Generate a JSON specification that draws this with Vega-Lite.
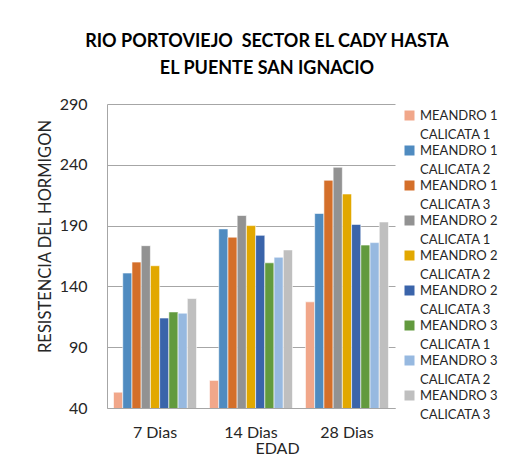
{
  "$schema": "https://vega.github.io/schema/vega-lite/v6.json",
  "width": 288,
  "height": 304,
  "autosize": {"type": "none"},
  "padding": {"left": 107, "top": 104, "right": 123, "bottom": 51},
  "background": "white",
  "config": {"font": "Lato", "view": {"stroke": null}, "style": {"guide-label": {"lineHeight": 19}}},
  "title": {
    "text": ["RIO PORTOVIEJO \u00a0SECTOR EL CADY HASTA", "EL PUENTE SAN IGNACIO"],
    "font": "Lato", "fontSize": 18, "fontWeight": "bold", "color": "black",
    "anchor": "middle", "dx": 16, "offset": 18, "lineHeight": 27
  },
  "data": {
    "values": [
      {"edad": "7 Dias", "serie": "MEANDRO 1 CALICATA 1", "valor": 53},
      {"edad": "7 Dias", "serie": "MEANDRO 1 CALICATA 2", "valor": 151},
      {"edad": "7 Dias", "serie": "MEANDRO 1 CALICATA 3", "valor": 160},
      {"edad": "7 Dias", "serie": "MEANDRO 2 CALICATA 1", "valor": 173.5},
      {"edad": "7 Dias", "serie": "MEANDRO 2 CALICATA 2", "valor": 157},
      {"edad": "7 Dias", "serie": "MEANDRO 2 CALICATA 3", "valor": 114},
      {"edad": "7 Dias", "serie": "MEANDRO 3 CALICATA 1", "valor": 119},
      {"edad": "7 Dias", "serie": "MEANDRO 3 CALICATA 2", "valor": 118},
      {"edad": "7 Dias", "serie": "MEANDRO 3 CALICATA 3", "valor": 130},
      {"edad": "14 Dias", "serie": "MEANDRO 1 CALICATA 1", "valor": 62.7},
      {"edad": "14 Dias", "serie": "MEANDRO 1 CALICATA 2", "valor": 187.3},
      {"edad": "14 Dias", "serie": "MEANDRO 1 CALICATA 3", "valor": 180.5},
      {"edad": "14 Dias", "serie": "MEANDRO 2 CALICATA 1", "valor": 198.3},
      {"edad": "14 Dias", "serie": "MEANDRO 2 CALICATA 2", "valor": 190},
      {"edad": "14 Dias", "serie": "MEANDRO 2 CALICATA 3", "valor": 182},
      {"edad": "14 Dias", "serie": "MEANDRO 3 CALICATA 1", "valor": 159.4},
      {"edad": "14 Dias", "serie": "MEANDRO 3 CALICATA 2", "valor": 164},
      {"edad": "14 Dias", "serie": "MEANDRO 3 CALICATA 3", "valor": 170},
      {"edad": "28 Dias", "serie": "MEANDRO 1 CALICATA 1", "valor": 127.3},
      {"edad": "28 Dias", "serie": "MEANDRO 1 CALICATA 2", "valor": 200},
      {"edad": "28 Dias", "serie": "MEANDRO 1 CALICATA 3", "valor": 227.3},
      {"edad": "28 Dias", "serie": "MEANDRO 2 CALICATA 1", "valor": 238},
      {"edad": "28 Dias", "serie": "MEANDRO 2 CALICATA 2", "valor": 216},
      {"edad": "28 Dias", "serie": "MEANDRO 2 CALICATA 3", "valor": 191},
      {"edad": "28 Dias", "serie": "MEANDRO 3 CALICATA 1", "valor": 174},
      {"edad": "28 Dias", "serie": "MEANDRO 3 CALICATA 2", "valor": 176},
      {"edad": "28 Dias", "serie": "MEANDRO 3 CALICATA 3", "valor": 193}
    ]
  },
  "mark": {"type": "bar", "stroke": "white", "strokeWidth": 0.6, "clip": true},
  "encoding": {
    "x": {
      "field": "edad", "type": "nominal",
      "sort": ["7 Dias", "14 Dias", "28 Dias"],
      "scale": {"paddingInner": 0.135, "paddingOuter": 0.068},
      "axis": {
        "title": "EDAD", "labelAngle": 0, "ticks": false,
        "domainColor": "#a6a6a6", "domainWidth": 1,
        "labelFontSize": 16, "labelColor": "#262626", "labelPadding": 16,
        "titleFontSize": 16, "titleFontWeight": "normal", "titleColor": "#262626",
        "titlePadding": 0, "titleX": 170
      }
    },
    "xOffset": {
      "field": "serie", "type": "nominal",
      "sort": ["MEANDRO 1 CALICATA 1", "MEANDRO 1 CALICATA 2", "MEANDRO 1 CALICATA 3", "MEANDRO 2 CALICATA 1", "MEANDRO 2 CALICATA 2", "MEANDRO 2 CALICATA 3", "MEANDRO 3 CALICATA 1", "MEANDRO 3 CALICATA 2", "MEANDRO 3 CALICATA 3"]
    },
    "y": {
      "field": "valor", "type": "quantitative",
      "scale": {"domain": [40, 290], "zero": false, "nice": false},
      "axis": {
        "title": "RESISTENCIA DEL HORMIGON",
        "values": [40, 90, 140, 190, 240, 290],
        "ticks": false, "domain": true, "domainColor": "#a6a6a6",
        "gridColor": "#a6a6a6", "gridWidth": 1,
        "labelFontSize": 16, "labelColor": "#262626", "labelPadding": 20,
        "titleFontSize": 16.5, "titleFontWeight": "normal", "titleColor": "#262626",
        "titlePadding": 6, "titleY": 132
      }
    },
    "color": {
      "field": "serie", "type": "nominal",
      "scale": {
        "domain": ["MEANDRO 1 CALICATA 1", "MEANDRO 1 CALICATA 2", "MEANDRO 1 CALICATA 3", "MEANDRO 2 CALICATA 1", "MEANDRO 2 CALICATA 2", "MEANDRO 2 CALICATA 3", "MEANDRO 3 CALICATA 1", "MEANDRO 3 CALICATA 2", "MEANDRO 3 CALICATA 3"],
        "range": ["#F1A78A", "#4F8BC0", "#D46F2A", "#929292", "#E2A800", "#3A64AA", "#629A3E", "#97B9E0", "#BFBFBF"]
      },
      "legend": {
        "title": null, "orient": "none", "legendX": 296, "legendY": 5,
        "symbolType": "square", "symbolSize": 100, "symbolStrokeWidth": 0,
        "labelFontSize": 13, "labelColor": "#262626",
        "labelOffset": 4, "rowPadding": 2, "padding": 0,
        "labelLimit": 200,
        "labelExpr": "[substring(datum.label, 0, 9), substring(datum.label, 10)]",
        "encode": {"labels": {"update": {"dy": {"value": 9.5}, "lineHeight": {"value": 19}}}}
      }
    }
  }
}
